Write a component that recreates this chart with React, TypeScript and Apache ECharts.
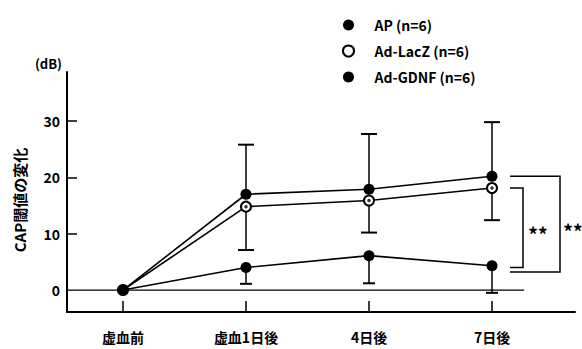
import React, { useEffect, useRef } from "react";
import * as echarts from "echarts";

const categories = ["虚血前", "虚血1日後", "4日後", "7日後"];
const seriesNames = ["AP (n=6)", "Ad-LacZ (n=6)", "Ad-GDNF (n=6)"];
const apMean = [0, 17.0, 17.9, 20.2];
const apSD = [0, 8.8, 9.8, 9.6];
const lacZMean = [0, 14.8, 15.9, 18.1];
const lacZSD = [0, 7.7, 5.7, 5.7];
const gdnfMean = [0, 4.0, 6.1, 4.3];
const gdnfSD = [0, 2.9, 4.9, 4.8];
const yLabelValues = [0, 10, 20, 30];
const yTickValues = [10, 20, 30];
const brackets = [
  { at: 3, top: 18.1, bottom: 4.0, label: "**" },
  { at: 3, top: 20.2, bottom: 3.2, label: "**" },
];

const FONT = "'Noto Sans CJK JP', 'Noto Sans', sans-serif";

export default function App() {
  const ref = useRef<HTMLDivElement>(null);
  useEffect(() => {
    if (!ref.current) return;
    const chart = echarts.init(ref.current, undefined, { renderer: "svg" });
    const yMin = -3.9;
    const yMax = 38.7;

    const errSeries = (mean: number[], sd: number[], dir: number, hw: number, name: string) => ({
      type: "custom",
      name: name + "-err",
      xAxisIndex: 1,
      yAxisIndex: 1,
      z: 1,
      silent: true,
      data: mean.map((m, i) => [i, m, sd[i], dir]),
      renderItem: (params: any, api: any) => {
        const x = api.value(0);
        const v = api.value(1);
        const e = api.value(2);
        const d = api.value(3);
        if (!e) return null;
        const p0 = api.coord([x, v]);
        const p1 = api.coord([x, v + d * e]);
        return {
          type: "group",
          children: [
            { type: "line", shape: { x1: p0[0], y1: p0[1], x2: p1[0], y2: p1[1] }, style: { stroke: "#000", lineWidth: 1.5 } },
            { type: "line", shape: { x1: p1[0] - hw, y1: p1[1], x2: p1[0] + hw, y2: p1[1] }, style: { stroke: "#000", lineWidth: 2 } },
          ],
        };
      },
    });

    const bracketLayout = [
      { x0: 18, x1: 31, tx: 46 },
      { x0: 18, x1: 68, tx: 81 },
    ];

    const option: any = {
      animation: false,
      textStyle: { fontFamily: FONT },
      grid: [
        { left: 67, right: 7, top: 72, bottom: 37 },
        { left: 61.5, width: 492, top: 72, bottom: 37 },
      ],
      legend: {
        data: [
          { name: seriesNames[0], icon: "circle" },
          { name: seriesNames[1], icon: "emptyCircle" },
          { name: seriesNames[2], icon: "circle" },
        ],
        orient: "vertical",
        left: 337,
        top: 13,
        itemWidth: 42,
        itemHeight: 11,
        itemGap: 12,
        textStyle: { fontFamily: FONT, fontSize: 14, fontWeight: "bold", color: "#000", lineHeight: 14 },
      },
      xAxis: [
        {
          type: "value",
          gridIndex: 0,
          min: 0,
          max: 1,
          axisLine: { show: true, onZero: false, lineStyle: { color: "#000", width: 2 } },
          axisTick: { show: false },
          axisLabel: { show: false },
          splitLine: { show: false },
        },
        {
          type: "category",
          gridIndex: 1,
          data: categories,
          boundaryGap: true,
          axisLine: { show: true, onZero: false, lineStyle: { color: "#000", opacity: 0 } },
          axisTick: { show: true, inside: true, alignWithLabel: true, length: 11, lineStyle: { color: "#000", width: 1.5 } },
          axisLabel: { margin: 18, fontSize: 14, fontWeight: "bold", color: "#000", fontFamily: FONT },
          splitLine: { show: false },
        },
      ],
      yAxis: [
        {
          type: "value",
          gridIndex: 0,
          min: yMin,
          max: yMax,
          name: "(dB)",
          nameLocation: "end",
          nameGap: 2,
          nameTextStyle: { align: "right", padding: [0, 5, 0, 0], fontSize: 13, fontWeight: "bold", color: "#000", fontFamily: FONT },
          axisLine: { show: true, onZero: false, lineStyle: { color: "#000", width: 2 } },
          axisTick: { show: true, inside: true, length: 10, customValues: yTickValues, lineStyle: { color: "#000", width: 1.5 } },
          axisLabel: { customValues: yLabelValues, margin: 7, fontSize: 14, fontWeight: "bold", color: "#000", fontFamily: FONT },
          splitLine: { show: false },
        },
        {
          type: "value",
          gridIndex: 1,
          min: yMin,
          max: yMax,
          show: false,
          splitLine: { show: false },
        },
      ],
      graphic: [
        {
          type: "text",
          x: 19,
          y: 200,
          rotation: Math.PI / 2,
          style: {
            text: "CAP閾値の変化",
            fontSize: 15,
            fontWeight: "bold",
            fontFamily: FONT,
            fill: "#000",
            textAlign: "center",
            textVerticalAlign: "middle",
          },
        },
      ],
      series: [
        {
          type: "custom",
          name: "zero-line",
          xAxisIndex: 0,
          yAxisIndex: 0,
          silent: true,
          data: [[0, 0]],
          renderItem: (params: any, api: any) => {
            const a = api.coord([0, 0]);
            const b = api.coord([0.9, 0]);
            return { type: "line", shape: { x1: a[0], y1: a[1], x2: b[0], y2: b[1] }, style: { stroke: "#000", lineWidth: 1.3 } };
          },
        },
        errSeries(apMean, apSD, 1, 8, "ap"),
        errSeries(lacZMean, lacZSD, -1, 8, "lacz"),
        errSeries(gdnfMean, gdnfSD, -1, 6, "gdnf"),
        {
          type: "line",
          name: seriesNames[0],
          xAxisIndex: 1,
          yAxisIndex: 1,
          data: apMean,
          symbol: "circle",
          symbolSize: 11,
          z: 3,
          lineStyle: { color: "#000", width: 1.6 },
          itemStyle: { color: "#000" },
        },
        {
          type: "line",
          name: seriesNames[1],
          xAxisIndex: 1,
          yAxisIndex: 1,
          data: lacZMean,
          symbol: "emptyCircle",
          symbolSize: 10,
          z: 3,
          lineStyle: { color: "#000", width: 1.6 },
          itemStyle: { color: "#000", borderColor: "#000", borderWidth: 2.8 },
        },
        {
          type: "scatter",
          name: "lacz-dot",
          xAxisIndex: 1,
          yAxisIndex: 1,
          data: lacZMean,
          symbol: "circle",
          symbolSize: 3.5,
          z: 4,
          silent: true,
          itemStyle: { color: "#000" },
        },
        {
          type: "line",
          name: seriesNames[2],
          xAxisIndex: 1,
          yAxisIndex: 1,
          data: gdnfMean,
          symbol: "circle",
          symbolSize: 11,
          z: 3,
          lineStyle: { color: "#000", width: 1.6 },
          itemStyle: { color: "#000" },
        },
        {
          type: "custom",
          name: "brackets",
          xAxisIndex: 1,
          yAxisIndex: 1,
          silent: true,
          data: brackets.map((b, i) => [b.at, b.top, b.bottom, i]),
          renderItem: (params: any, api: any) => {
            const i = api.value(3);
            const lay = bracketLayout[i];
            const t = api.coord([api.value(0), api.value(1)]);
            const bt = api.coord([api.value(0), api.value(2)]);
            const x0 = t[0] + lay.x0;
            const x1 = t[0] + lay.x1;
            return {
              type: "group",
              children: [
                {
                  type: "polyline",
                  shape: { points: [[x0, t[1]], [x1, t[1]], [x1, bt[1]], [x0, bt[1]]] },
                  style: { stroke: "#000", lineWidth: 1.5, fill: null },
                },
                {
                  type: "text",
                  x: t[0] + lay.tx,
                  y: (t[1] + bt[1]) / 2 + 6,
                  style: {
                    text: brackets[i].label,
                    fontSize: 19,
                    fontWeight: "bold",
                    fontFamily: FONT,
                    fill: "#000",
                    textAlign: "center",
                    textVerticalAlign: "middle",
                  },
                },
              ],
            };
          },
        },
      ],
    };
    chart.setOption(option);
    return () => chart.dispose();
  }, []);
  return <div ref={ref} style={{ width: 582, height: 349, position: "absolute", left: 0, top: 0, background: "#fff" }} />;
}
